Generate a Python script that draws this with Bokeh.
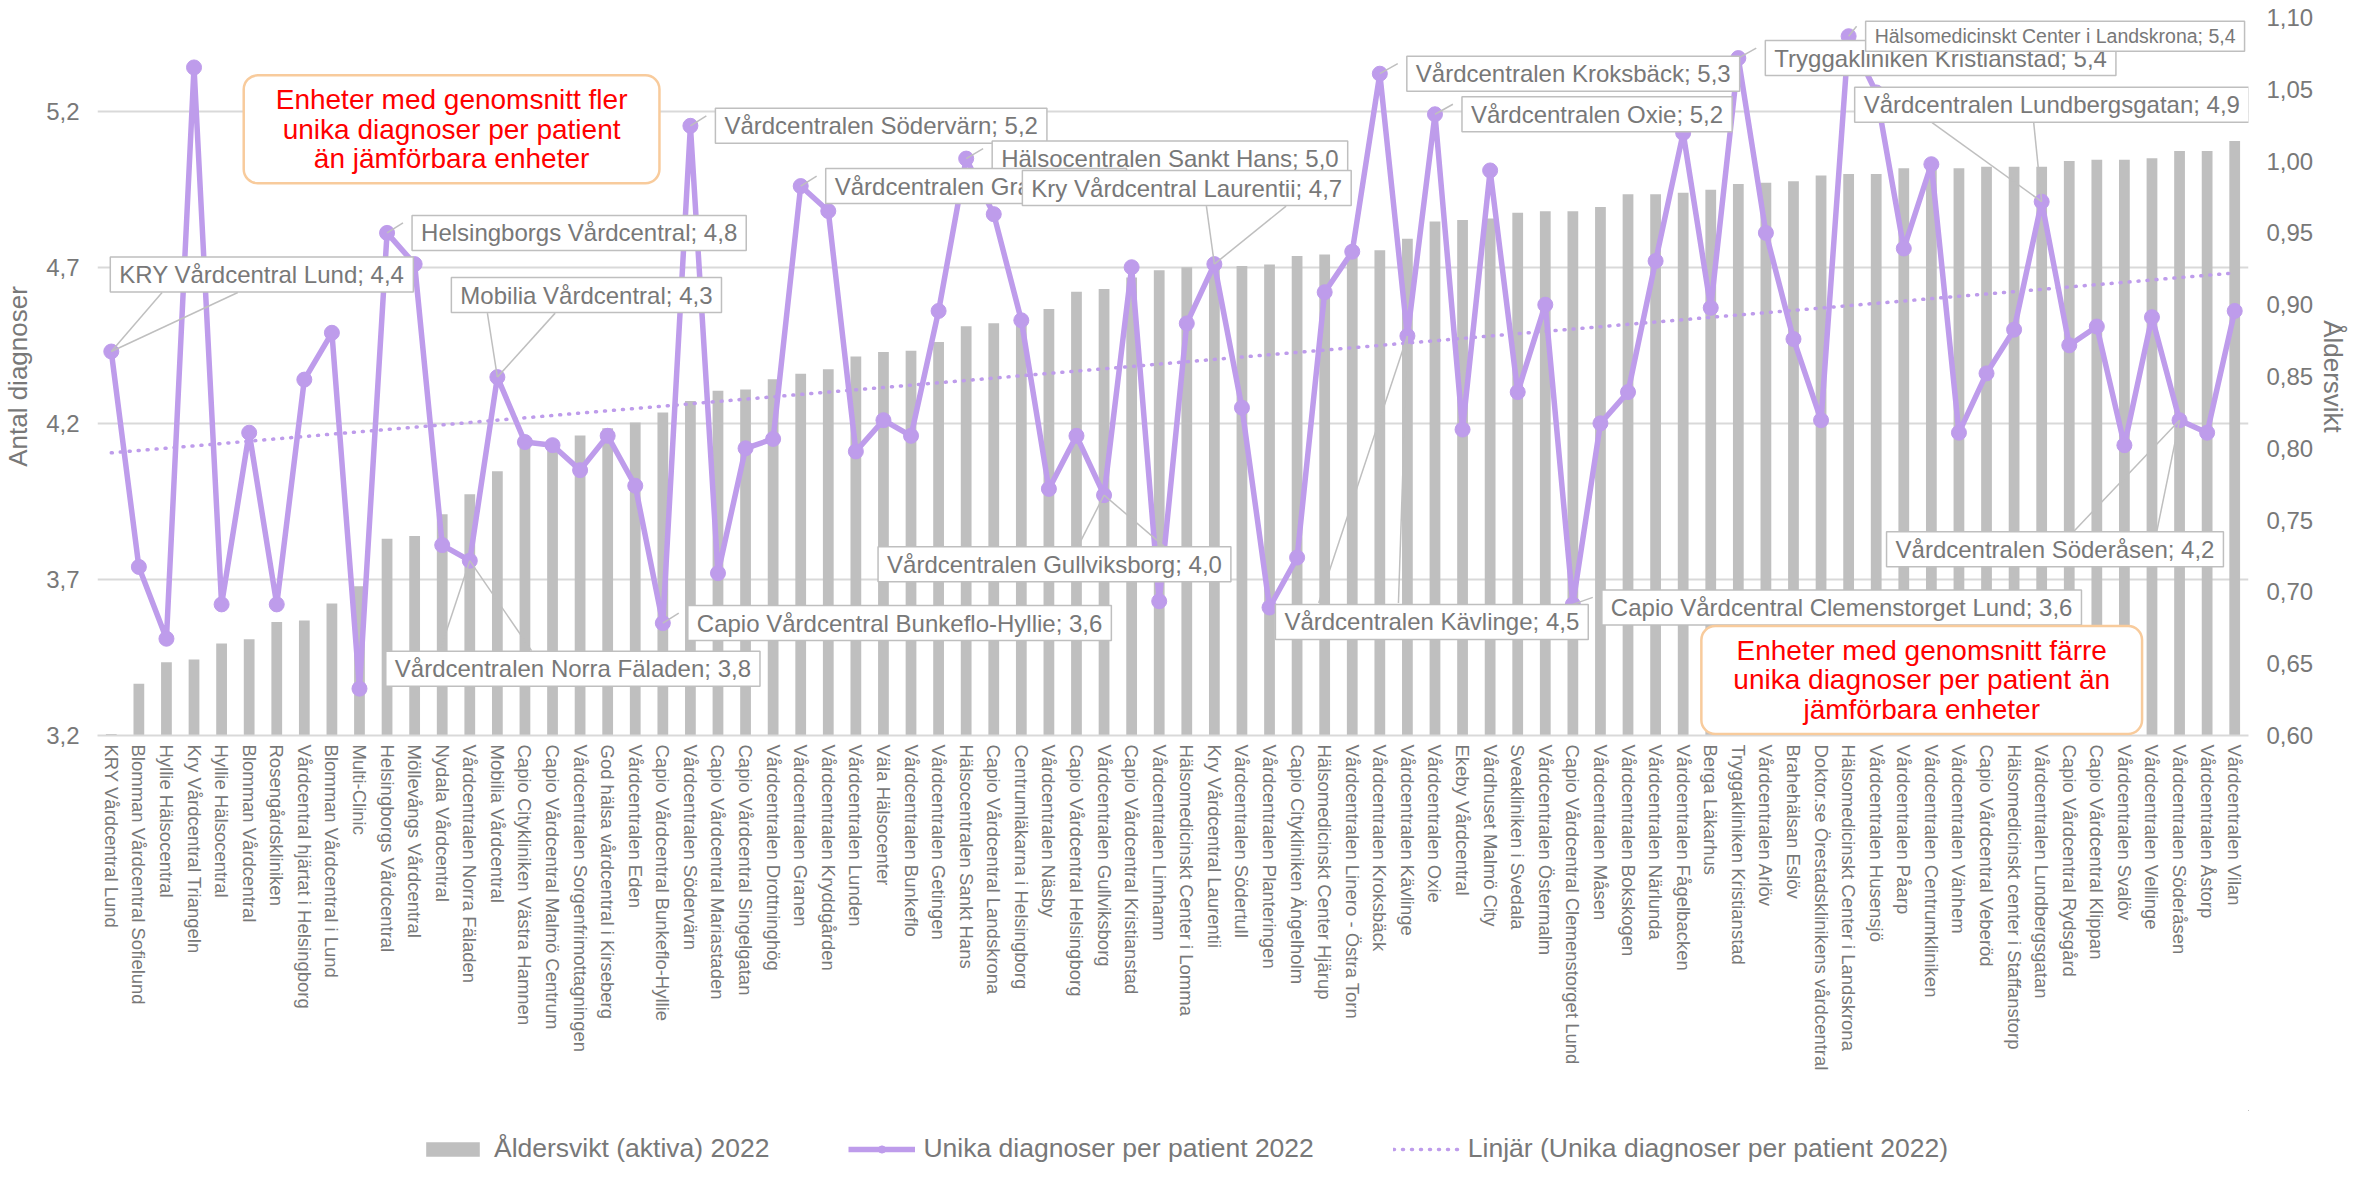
import numpy as np
from bokeh.plotting import figure
from bokeh.layouts import column
from bokeh.models import (Range1d, LinearAxis, FixedTicker, CustomJSTickFormatter,
                          Label, Legend, LegendItem, ColumnDataSource)
from bokeh.embed import file_html
from bokeh.resources import INLINE

# ---------------- data ----------------
categories = [
    "KRY Vårdcentral Lund", "Blomman Vårdcentral Sofielund", "Hyllie Hälsocentral",
    "Kry Vårdcentral Triangeln", "Hyllie Hälsocentral", "Blomman Vårdcentral",
    "Rosengårdskliniken", "Vårdcentral hjärtat i Helsingborg", "Blomman Vårdcentral i Lund",
    "Multi-Clinic", "Helsingborgs Vårdcentral", "Möllevångs Vårdcentral",
    "Nydala Vårdcentral", "Vårdcentralen Norra Fäladen", "Mobilia Vårdcentral",
    "Capio Citykliniken Västra Hamnen", "Capio Vårdcentral Malmö Centrum",
    "Vårdcentralen Sorgenfrimottagningen", "God hälsa vårdcentral i Kirseberg",
    "Vårdcentralen Eden", "Capio Vårdcentral Bunkeflo-Hyllie", "Vårdcentralen Södervärn",
    "Capio Vårdcentral Mariastaden", "Capio Vårdcentral Singelgatan",
    "Vårdcentralen Drottninghög", "Vårdcentralen Granen", "Vårdcentralen Kryddgården",
    "Vårdcentralen Lunden", "Väla Hälsocenter", "Vårdcentralen Bunkeflo",
    "Vårdcentralen Getingen", "Hälsocentralen Sankt Hans", "Capio Vårdcentral Landskrona",
    "Centrumläkarna i Helsingborg", "Vårdcentralen Näsby", "Capio Vårdcentral Helsingborg",
    "Vårdcentralen Gullviksborg", "Capio Vårdcentral Kristianstad", "Vårdcentralen Limhamn",
    "Hälsomedicinskt Center i Lomma", "Kry Vårdcentral Laurentii", "Vårdcentralen Södertull",
    "Vårdcentralen Planteringen", "Capio Citykliniken Ängelholm",
    "Hälsomedicinskt Center Hjärup", "Vårdcentralen Linero - Östra Torn",
    "Vårdcentralen Kroksbäck", "Vårdcentralen Kävlinge", "Vårdcentralen Oxie",
    "Ekeby Vårdcentral", "Vårdhuset Malmö City", "Sveakliniken i Svedala",
    "Vårdcentralen Östermalm", "Capio Vårdcentral Clemenstorget Lund", "Vårdcentralen Måsen",
    "Vårdcentralen Bokskogen", "Vårdcentralen Närlunda", "Vårdcentralen Fågelbacken",
    "Berga Läkarhus", "Tryggakliniken Kristianstad", "Vårdcentralen Arlöv",
    "Brahehälsan Eslöv", "Doktor.se Örestadsklinikens vårdcentral",
    "Hälsomedicinskt Center i Landskrona", "Vårdcentralen Husensjö", "Vårdcentralen Påarp",
    "Vårdcentralen Centrumkliniken", "Vårdcentralen Vänhem", "Capio Vårdcentral Veberöd",
    "Hälsomedicinskt center i Staffanstorp", "Vårdcentralen Lundbergsgatan",
    "Capio Vårdcentral Rydsgård", "Capio Vårdcentral Klippan", "Vårdcentralen Svalöv",
    "Vårdcentralen Vellinge", "Vårdcentralen Söderåsen", "Vårdcentralen Åstorp",
    "Vårdcentralen Vilan",
]

unika_diagnoser = [
    4.43, 3.74, 3.51, 5.34, 3.62, 4.17, 3.62, 4.34, 4.49, 3.35,
    4.81, 4.71, 3.81, 3.76, 4.348, 4.14, 4.13, 4.05, 4.16, 4.00,
    3.56, 5.153, 3.72, 4.12, 4.15, 4.96, 4.88, 4.11, 4.21, 4.16,
    4.56, 5.048, 4.87, 4.53, 3.99, 4.16, 3.97, 4.70, 3.63, 4.52,
    4.71, 4.25, 3.61, 3.77, 4.62, 4.75, 5.32, 4.48, 5.19, 4.18,
    5.01, 4.30, 4.58, 3.62, 4.20, 4.30, 4.72, 5.13, 4.57, 5.37,
    4.81, 4.47, 4.21, 5.44, 5.26, 4.76, 5.03, 4.17, 4.36, 4.50,
    4.91, 4.45, 4.51, 4.13, 4.54, 4.21, 4.17, 4.56,
]

aldersvikt = [
    0.601, 0.636, 0.651, 0.653, 0.664, 0.667, 0.679, 0.680, 0.692, 0.704,
    0.737, 0.739, 0.754, 0.768, 0.784, 0.803, 0.804, 0.809, 0.814, 0.818,
    0.825, 0.833, 0.840, 0.841, 0.848, 0.852, 0.855, 0.864, 0.867, 0.868,
    0.874, 0.885, 0.887, 0.892, 0.897, 0.909, 0.911, 0.919, 0.924, 0.926,
    0.927, 0.927, 0.928, 0.934, 0.935, 0.936, 0.938, 0.946, 0.958, 0.959,
    0.960, 0.964, 0.965, 0.965, 0.968, 0.977, 0.977, 0.978, 0.980, 0.984,
    0.985, 0.986, 0.990, 0.991, 0.991, 0.995, 0.995, 0.995, 0.996, 0.996,
    0.996, 1.000, 1.001, 1.001, 1.002, 1.007, 1.007, 1.014,
]

left_ticks = [3.2, 3.7, 4.2, 4.7, 5.2]
right_ticks = [0.60, 0.65, 0.70, 0.75, 0.80, 0.85, 0.90, 0.95, 1.00, 1.05, 1.10]

series_names = ["Åldersvikt (aktiva) 2022", "Unika diagnoser per patient 2022",
                "Linjär (Unika diagnoser per patient 2022)"]

note_high = "Enheter med genomsnitt fler\nunika diagnoser per patient\nän jämförbara enheter"
note_low = "Enheter med genomsnitt färre\nunika diagnoser per patient än\njämförbara enheter"

# callouts: (category index, box dx, box dy, wedge base (dx1, dx2, dy) or None, font px)
callout_layout = [
    (0, -10, 77, (51, 127, 59), 24),
    (10, 16, 0, None, 24),
    (14, -55, 82, (-10, 58, 64), 24),
    (13, -93, -108, (-30, 62, -90), 24),
    (20, 16, 0, None, 24),
    (21, 16, 0, None, 24),
    (31, 17, 0, None, 24),
    (25, 16, 0, None, 24),
    (40, -201, 76, (-8, 72, 58), 24),
    (36, -235, -69, (-26, 60, -51), 24),
    (46, 18, 0, None, 24),
    (48, 18, 0, None, 24),
    (47, -141, -286, (-89, -9, -267), 24),
    (53, 20, -3, None, 24),
    (59, 18, 0, None, 24),
    (63, 8, 0, None, 19.5),
    (70, -196, 97, (-110, -8, 79), 24),
    (75, -302, -129, (-107, -23, -112), 24),
]

# ---------------- layout constants ----------------
W, H = 2351, 1164
LEG_H = 54
PH = H - LEG_H
BL, BR, BT = 95, 97, 17
FH = 718
BB = PH - BT - FH
FW = W - BL - BR
N = len(categories)
YL = (3.2, 5.5)
YR = (0.6, 1.1)
px_x = FW / N
px_y = FH / (YL[1] - YL[0])

GRAY_TXT = "#787878"
PURPLE = "#BE9CEB"
BAR = "#BFBFBF"
FONT = "Liberation Sans"

idx = list(range(N))
src = ColumnDataSource(dict(x=idx, u=unika_diagnoser, a=aldersvikt))
coef = np.polyfit(idx, unika_diagnoser, 1)
trend_src = ColumnDataSource(dict(x=idx, t=list(np.polyval(coef, idx))))

p = figure(width=W, height=PH, output_backend="svg", toolbar_location=None,
           x_range=Range1d(-0.5, N - 0.5), y_range=Range1d(*YL),
           min_border_left=BL, min_border_right=BR, min_border_top=BT,
           min_border_bottom=BB, title=None)
p.extra_y_ranges = {"right": Range1d(*YR)}
p.outline_line_color = None
p.background_fill_color = "white"
p.border_fill_color = "white"

bar_style = dict(fill_color=BAR, line_color=None)
trend_style = dict(line_color=PURPLE, line_width=3.5, line_dash="1 8", line_cap="round")
line_style = dict(line_color=PURPLE, line_width=5.5)
mark_style = dict(size=15, fill_color=PURPLE, line_color=PURPLE)

p.vbar(x="x", top="a", bottom=YR[0], width=0.39, source=src,
       y_range_name="right", **bar_style)
p.line("x", "t", source=trend_src, **trend_style)
p.line("x", "u", source=src, **line_style)
p.scatter("x", "u", source=src, **mark_style)

# axes
p.xaxis.ticker = FixedTicker(ticks=idx)
p.xaxis.major_label_overrides = {i: c for i, c in enumerate(categories)}
p.xaxis.major_label_orientation = "vertical"
p.xaxis.major_label_text_font_size = "18.5px"
p.xaxis.major_label_text_font = FONT
p.xaxis.major_label_text_color = GRAY_TXT
p.xaxis.major_label_standoff = 9
p.xaxis.axis_line_color = "#D9D9D9"
p.xaxis.axis_line_width = 2
p.xaxis.major_tick_line_color = None
p.xaxis.minor_tick_line_color = None
p.xaxis.major_tick_out = 0
p.xaxis.major_tick_in = 0
p.xaxis.minor_tick_out = 0

p.yaxis.ticker = FixedTicker(ticks=left_ticks)
p.yaxis.formatter = CustomJSTickFormatter(code="return tick.toFixed(1).replace('.', ',')")
p.yaxis.axis_line_color = None
p.yaxis.major_tick_line_color = None
p.yaxis.minor_tick_line_color = None
p.yaxis.major_tick_out = 0
p.yaxis.major_tick_in = 0
p.yaxis.minor_tick_out = 0
p.yaxis.major_label_text_font_size = "24px"
p.yaxis.major_label_text_font = FONT
p.yaxis.major_label_text_color = GRAY_TXT
p.yaxis.major_label_standoff = 18
p.yaxis.axis_label = "Antal diagnoser"
p.yaxis.axis_label_text_font_size = "26px"
p.yaxis.axis_label_text_font = FONT
p.yaxis.axis_label_text_font_style = "normal"
p.yaxis.axis_label_text_color = GRAY_TXT
p.yaxis.axis_label_standoff = 10

raxis = LinearAxis(y_range_name="right", ticker=FixedTicker(ticks=right_ticks),
                   formatter=CustomJSTickFormatter(code="return tick.toFixed(2).replace('.', ',')"))
raxis.axis_line_color = None
raxis.major_tick_line_color = None
raxis.minor_tick_line_color = None
raxis.major_tick_out = 0
raxis.major_tick_in = 0
raxis.minor_tick_out = 0
raxis.major_label_text_font_size = "24px"
raxis.major_label_text_font = FONT
raxis.major_label_text_color = GRAY_TXT
raxis.major_label_standoff = 18
raxis.axis_label = "Åldersvikt"
raxis.axis_label_text_font_size = "26px"
raxis.axis_label_text_font = FONT
raxis.axis_label_text_font_style = "normal"
raxis.axis_label_text_color = GRAY_TXT
raxis.axis_label_standoff = 2
p.add_layout(raxis, "right")

p.xgrid.grid_line_color = None
p.ygrid.ticker = FixedTicker(ticks=left_ticks)
p.ygrid.grid_line_color = "#D9D9D9"
p.ygrid.grid_line_width = 2

# callouts
fmt = lambda v: f"{v:.1f}".replace(".", ",")
for i, dx, dy, wedge, fs in callout_layout:
    xv, yv = i, unika_diagnoser[i]
    if wedge is None:
        p.segment(x0=[xv], y0=[yv], x1=[xv + dx / px_x], y1=[yv + (dy + 10) / px_y],
                  line_color="#BFBFBF", line_width=1.5)
    else:
        bx1, bx2, by = wedge
        p.segment(x0=[xv, xv], y0=[yv, yv],
                  x1=[xv + bx1 / px_x, xv + bx2 / px_x],
                  y1=[yv + by / px_y, yv + by / px_y],
                  line_color="#BFBFBF", line_width=1.5)
    p.add_layout(Label(x=xv, y=yv, x_offset=dx + 9, y_offset=dy,
                       text=f"{categories[i]}; {fmt(unika_diagnoser[i])}",
                       text_font=FONT, text_font_size=f"{fs}px", text_color=GRAY_TXT,
                       text_align="left", text_baseline="middle",
                       background_fill_color="white", border_line_color="#BFBFBF",
                       border_line_width=1.5, padding=(9, 9, 4, 4)))

# red notes
for xv, yv, txt in [(12.34, 5.142, note_high), (65.65, 3.378, note_low)]:
    p.add_layout(Label(x=xv, y=yv, text=txt, text_font=FONT, text_font_size="28px",
                       text_color="#FF0000", text_align="center", text_baseline="middle",
                       text_line_height=0.95,
                       background_fill_color="white", border_line_color="#F8CB9C",
                       border_line_width=2.5, border_radius=14,
                       padding=(32, 32, 9, 9)))

# ---------------- legend strip: a small figure showing the same series, kept off-range ----------------
lg = figure(width=W, height=LEG_H, output_backend="svg", toolbar_location=None,
            x_range=Range1d(-1000, -999), y_range=Range1d(-1000, -999), title=None,
            x_axis_location=None, y_axis_location=None,
            min_border_left=0, min_border_right=0, min_border_top=0, min_border_bottom=0)
lg.outline_line_color = None
lg.xgrid.visible = False
lg.ygrid.visible = False
lg.background_fill_color = "white"
lg.border_fill_color = "white"
r_bar = lg.vbar(x="x", top="a", bottom=YR[0], width=0.39, source=src, **bar_style)
r_line = lg.line("x", "u", source=src, **line_style)
r_mark = lg.scatter("x", "u", source=src, **mark_style)
r_trend = lg.line("x", "t", source=trend_src, **trend_style)
legend = Legend(items=[LegendItem(label=series_names[0], renderers=[r_bar]),
                       LegendItem(label=series_names[1], renderers=[r_line, r_mark]),
                       LegendItem(label=series_names[2], renderers=[r_trend])],
                orientation="horizontal", location=(322, 0),
                label_text_font=FONT, label_text_font_size="26.5px",
                label_text_color=GRAY_TXT, glyph_width=67, glyph_height=18,
                spacing=79, label_standoff=8, padding=0, margin=0,
                border_line_color=None, background_fill_alpha=0)
lg.add_layout(legend)

layout = column(p, lg, spacing=0)
open("out.html", "w").write(file_html(layout, INLINE))
